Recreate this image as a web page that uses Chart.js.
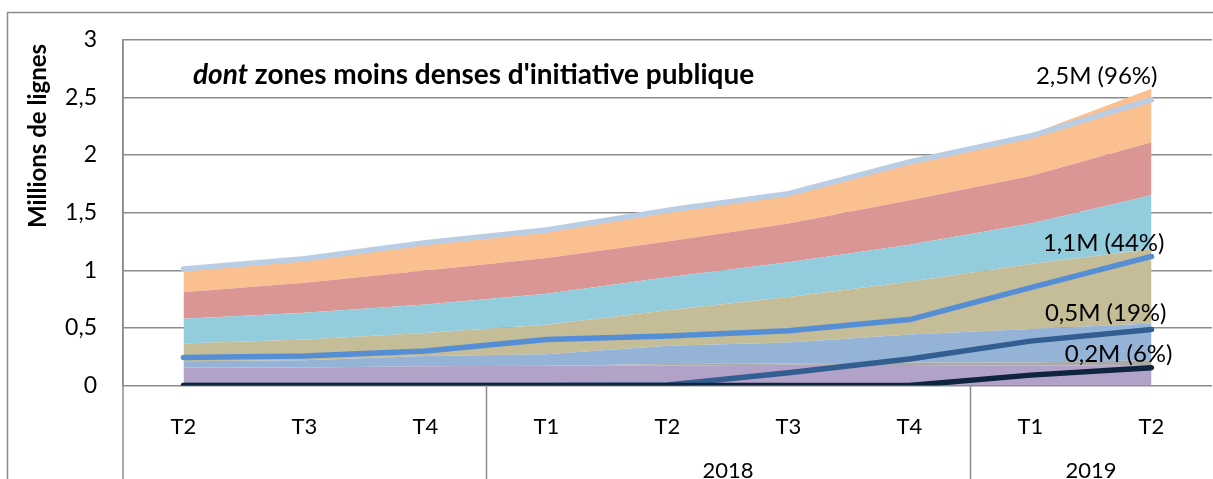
<!DOCTYPE html>
<html><head><meta charset="utf-8">
<script src="https://cdn.jsdelivr.net/npm/chart.js@4/dist/chart.umd.min.js"></script>
<style>
html,body{margin:0;padding:0;background:#fff;overflow:hidden}
#wrap{position:relative;width:1213px;height:479px}
</style></head><body>
<div id="wrap"><canvas id="c" width="1213" height="479"></canvas></div>
<script>
// ---- data ----
const categories = ['T2','T3','T4','T1','T2','T3','T4','T1','T2'];
const yearLabels = ['', '2018', '2019'];
const yearStarts = [0, 3, 7];
const yearEnds = [2, 6, 8];
const yTicks = [0, 0.5, 1, 1.5, 2, 2.5, 3];

// stacked area layers (bottom to top), millions of lines
const purpleLayer = [0.157, 0.157, 0.168, 0.171, 0.174, 0.180, 0.177, 0.171, 0.177];
const grayLayer   = [0.000, 0.000, 0.000, 0.000, 0.012, 0.012, 0.023, 0.029, 0.043];
const blueLayer   = [0.054, 0.063, 0.087, 0.101, 0.158, 0.181, 0.242, 0.290, 0.317];
const tanLayer    = [0.153, 0.180, 0.201, 0.256, 0.308, 0.394, 0.458, 0.565, 0.648];
const cyanLayer   = [0.216, 0.232, 0.248, 0.268, 0.288, 0.302, 0.322, 0.351, 0.466];
const roseLayer   = [0.230, 0.259, 0.293, 0.311, 0.310, 0.337, 0.386, 0.412, 0.460];
const peachLayer  = [0.190, 0.194, 0.228, 0.223, 0.250, 0.274, 0.312, 0.362, 0.464];

// "dont zones moins denses d'initiative publique" lines
const totalLine  = [1.01, 1.10, 1.24, 1.35, 1.52, 1.665, 1.94, 2.165, 2.48];
const line44     = [0.243, 0.257, 0.30, 0.40, 0.43, 0.475, 0.572, 0.85, 1.12];
const line19     = [0, 0, 0, 0, 0.005, 0.11, 0.23, 0.385, 0.485];
const line6      = [0, 0, 0, 0, 0, 0, 0, 0.09, 0.155];
const endLabels  = ['2,5M (96%)', '1,1M (44%)', '0,5M (19%)', '0,2M (6%)'];

const titleItalic = 'dont';
const titleRest = ' zones moins denses d\'initiative publique';
const yTitle = 'Millions de lignes';

// ---- chart ----
const FONT = 'Lato, "Open Sans", sans-serif';
const areaDefs = [
  [purpleLayer, '#B3A2C7'], [grayLayer, '#A9A9A9'], [blueLayer, '#95B3D7'],
  [tanLayer, '#C4BD97'], [cyanLayer, '#93CDDD'], [roseLayer, '#D99694'], [peachLayer, '#FAC090']
];
const lineDefs = [
  [totalLine, '#B9CDE5'], [line44, '#558ED5'], [line19, '#335E91'], [line6, '#0F243E']
];
const datasets = [];
areaDefs.forEach(([d, c], i) => datasets.push({
  data: d, backgroundColor: c, borderColor: c, borderWidth: 0, pointRadius: 0,
  fill: i === 0 ? 'origin' : '-1', stack: 'areas', order: 2, tension: 0
}));
lineDefs.forEach(([d, c], i) => datasets.push({
  data: d, borderColor: c, backgroundColor: c, borderWidth: 5.5, pointRadius: 0,
  fill: false, stack: 'line' + i, order: 1 + (i === 0 ? 0.5 : 0) - i * 0.1, tension: 0,
  borderCapStyle: 'round', borderJoinStyle: 'round'
}));

const decor = {
  id: 'decor',
  afterDraw(chart) {
    const ctx = chart.ctx, ca = chart.chartArea, xs = chart.scales.x, ys = chart.scales.y;
    const step = xs.getPixelForValue(1) - xs.getPixelForValue(0);
    ctx.save();
    ctx.strokeStyle = '#8c8c8c';
    ctx.lineWidth = 1.5;
    // outer frame
    ctx.strokeRect(7.5, 12.5, 3000, 3000);
    // left axis extension
    ctx.beginPath(); ctx.moveTo(ca.left, ca.top); ctx.lineTo(ca.left, chart.height); ctx.stroke();
    // group separators and year labels
    ctx.fillStyle = '#000';
    ctx.font = '22px ' + FONT;
    ctx.textAlign = 'center';
    ctx.textBaseline = 'middle';
    yearLabels.forEach((lab, g) => {
      const left = xs.getPixelForValue(yearStarts[g]) - step / 2;
      const right = Math.min(xs.getPixelForValue(yearEnds[g]) + step / 2, ca.right);
      if (g < yearLabels.length - 1) {
        ctx.beginPath(); ctx.moveTo(Math.round(right) + 0.5, ca.bottom); ctx.lineTo(Math.round(right) + 0.5, chart.height); ctx.stroke();
      }
      if (lab) ctx.fillText(lab, (left + right) / 2, 471);
    });
    // title
    ctx.textAlign = 'left';
    ctx.textBaseline = 'alphabetic';
    ctx.font = 'italic bold 28px ' + FONT;
    ctx.fillText(titleItalic, 193, 84);
    const w = ctx.measureText(titleItalic).width;
    ctx.font = 'bold 28px ' + FONT;
    ctx.fillText(titleRest, 193 + w, 84);
    // y title
    ctx.save();
    ctx.translate(38, 136);
    ctx.rotate(-Math.PI / 2);
    ctx.textAlign = 'center';
    ctx.textBaseline = 'middle';
    ctx.font = 'bold 24px ' + FONT;
    ctx.fillText(yTitle, 0, 0);
    ctx.restore();
    // end labels
    const lastX = xs.getPixelForValue(categories.length - 1);
    const lines = [totalLine, line44, line19, line6];
    const dx = [6, 13, 15, 21];
    const dy = [-23, -13, -16, -13.5];
    ctx.font = '24px ' + FONT;
    ctx.textAlign = 'right';
    ctx.textBaseline = 'middle';
    lines.forEach((l, i) => {
      const y = ys.getPixelForValue(l[l.length - 1]);
      ctx.fillText(endLabels[i], lastX + dx[i], y + dy[i]);
    });
    ctx.restore();
  }
};

new Chart(document.getElementById('c'), {
  type: 'line',
  data: { labels: categories, datasets },
  options: {
    responsive: false, animation: false, devicePixelRatio: 1,
    layout: { padding: { top: 38, right: 1, left: 0, bottom: 0 } },
    plugins: { legend: { display: false }, tooltip: { enabled: false } },
    scales: {
      x: {
        type: 'category', offset: true,
        grid: { display: false },
        border: { display: false },
        ticks: { font: { family: FONT, size: 22 }, color: '#000', padding: 20, maxRotation: 0, autoSkip: false },
        afterFit(s) { s.height = 93.5; }
      },
      y: {
        stacked: true, min: 0, max: 3,
        afterBuildTicks(s) { s.ticks = yTicks.map(v => ({ value: v })); },
        grid: { color: '#8c8c8c', lineWidth: 1.5, drawTicks: false },
        border: { display: true, color: '#8c8c8c', width: 1.5 },
        ticks: {
          font: { family: FONT, size: 23 }, color: '#000', padding: 26,
          callback: v => String(v).replace('.', ',')
        },
        afterFit(s) { s.width = 123; }
      }
    }
  },
  plugins: [decor]
});
</script>
</body></html>
